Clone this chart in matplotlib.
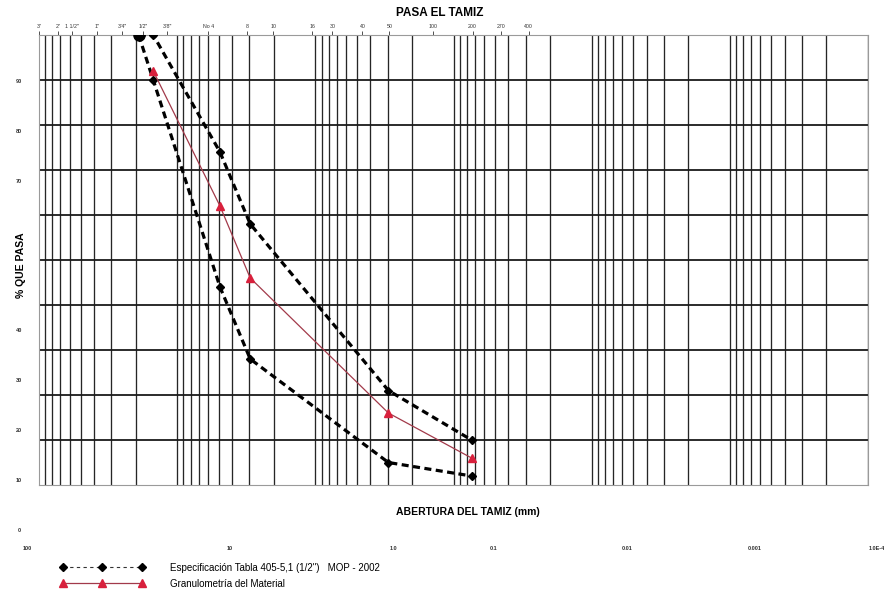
import matplotlib
matplotlib.use("Agg")
import matplotlib.pyplot as plt
from matplotlib.lines import Line2D

plt.rcParams['font.family'] = ['Liberation Sans', 'DejaVu Sans']

# abertura (mm)
abertura = [19.0, 14.9, 4.9, 2.96, 0.296, 0.074]
lim_inf = [100, 90, 44, 28, 5, 2]
lim_sup = [100, 100, 74, 58, 21, 10]

abertura_mat = [14.9, 4.9, 2.96, 0.296, 0.074]
material = [92, 62, 46, 16, 6]

tamiz_pos = [100, 72.9, 57.7, 38.0, 25.0, 17.6, 11.8, 5.96, 3.11, 2.01,
             1.05, 0.753, 0.456, 0.291, 0.140, 0.0728, 0.0456, 0.0286]
tamiz_txt = ['3"', '2"', '1 1/2"', '1"', '3/4"', '1/2"', '3/8"', 'No 4', '8', '10',
             '16', '30', '40', '50', '100', '200', '270', '400']

# etiquetas de abajo
abajo_txt = ['100', '10', '1.0', '0.1', '0.01', '0.001', '1.0E-4']
abajo_pos = [122, 4.13, 0.272, 0.0513, 0.0055, 0.00066, 0.0000866]

# etiquetas % (desplazadas en el escaneo)
pct_txt = ['0', '10', '20', '30', '40', '70', '80', '90']

fig = plt.figure(figsize=(8.84, 5.94), dpi=100)
ax = fig.add_axes([39/884, 1-485/594, (868-39)/884, 450/594])
ax.set_xscale('log')
ax.set_xlim(100, 0.0001)
ax.set_ylim(0, 100)

# grilla logaritmica
xs = []
for e in range(-4, 2):
    for k in range(1, 10):
        v = k * 10.0**e
        if 0.0001 <= v <= 100:
            xs.append(v)
ax.vlines(xs, 0, 100, colors='#262626', lw=0.95, zorder=1)
ax.hlines(range(10, 100, 10), 100, 0.0001, colors='#1a1a1a', lw=1.3, zorder=1)
for s in ax.spines.values():
    s.set_color('#9a9a9a')
    s.set_linewidth(0.8)

ax.plot(abertura, lim_inf, color='black', lw=2.3, dashes=(2.2, 1.4),
        marker='D', ms=4.5, zorder=3)
ax.plot(abertura, lim_sup, color='black', lw=2.3, dashes=(2.2, 1.4),
        marker='D', ms=4.5, zorder=3)
ax.plot(abertura_mat, material, color='#a23a4a', lw=0.9,
        marker='^', ms=6, mfc='#d8203c', mec='#d8203c', zorder=4)
ax.plot([19.0], [100], 'o', color='black', ms=8, zorder=5)

# ticks de arriba = tamices
ax.xaxis.tick_top()
ax.xaxis.set_minor_locator(matplotlib.ticker.NullLocator())
ax.set_xticks(tamiz_pos)
ax.set_xticklabels(tamiz_txt, fontsize=3.8)
ax.tick_params(axis='x', length=3, width=0.6, pad=1, colors='#333333')
ax.set_yticks([])

# etiquetas de abajo
for t, p in zip(abajo_txt, abajo_pos):
    ax.text(p, -14, t, fontsize=4, ha='center', va='center',
            fontweight='bold', color='#333333', clip_on=False)

# etiquetas de %
for t in pct_txt:
    v = int(t)
    ax.text(100 * 10**(20/138.0), -10 + 1.107 * v, t, fontsize=4, ha='center',
            va='center', fontweight='bold', color='#333333', clip_on=False)

fig.text(440/884, 1-13/594, 'PASA EL TAMIZ', fontsize=8.5, fontweight='bold',
         ha='center', va='center')
fig.text(468/884, 1-512/594, 'ABERTURA DEL TAMIZ (mm)', fontsize=7.5,
         fontweight='bold', ha='center', va='center')
fig.text(21/884, 1-265/594, '% QUE PASA', fontsize=7.5, fontweight='bold',
         rotation=90, ha='center', va='center')

h1 = Line2D([], [], color='#333333', lw=0.8, ls=(0, (3, 3)), marker='D', ms=4,
            mfc='black', mec='black')
h2 = Line2D([], [], color='#a23a4a', lw=0.9, marker='^', ms=6,
            mfc='#d8203c', mec='#d8203c')
fig.legend([h1, h2], ['Especificación Tabla 405-5,1 (1/2")   MOP - 2002',
                      'Granulometría del Material'],
           loc='upper left', bbox_to_anchor=(56/884, 1-559/594), frameon=False,
           numpoints=3, fontsize=7, handlelength=8.7, handletextpad=2.6,
           labelspacing=0.6, borderaxespad=0)

fig.savefig('out.png', dpi=100)
